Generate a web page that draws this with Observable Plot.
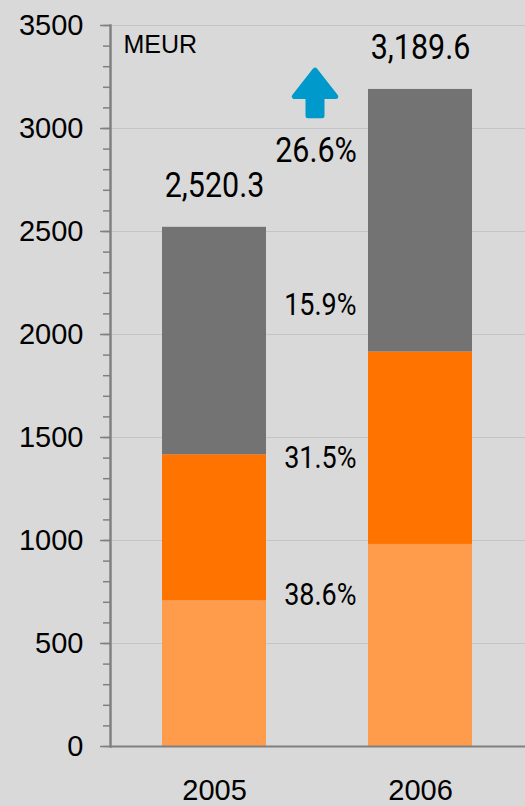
<!DOCTYPE html>
<html>
<head>
<meta charset="utf-8">
<script src="https://cdn.jsdelivr.net/npm/d3@7"></script>
<script src="https://cdn.jsdelivr.net/npm/@observablehq/plot@0.6"></script>
<style>
  html, body { margin: 0; padding: 0; background: #d9d9d9; }
  #chart svg { display: block; }
</style>
</head>
<body>
<div id="chart"></div>
<script>
// ---- data ----
const years = ["2005", "2006"];
const segments = ["Base", "Core", "Other"];           // bottom → top
const baseValues  = [707.0, 981.0];
const coreValues  = [709.0, 934.0];
const otherValues = [1104.3, 1274.6];
const totals = [2520.3, 3189.6];
const totalLabels = ["2,520.3", "3,189.6"];
const growthLabels = ["38.6%", "31.5%", "15.9%"];      // Base, Core, Other growth
const totalGrowthLabel = "26.6%";
const yTicks = [0, 500, 1000, 1500, 2000, 2500, 3000, 3500];
const unitLabel = "MEUR";

const colors = {Base: "#ff9c4c", Core: "#ff7300", Other: "#737373"};

// ---- table built from arrays ----
const rows = [];
years.forEach((yr, i) => {
  [baseValues, coreValues, otherValues].forEach((arr, j) => {
    rows.push({year: yr, segment: segments[j], value: arr[i]});
  });
});
const totalRows = years.map((yr, i) => ({year: yr, total: totals[i], label: totalLabels[i]}));
// annotation placement (layout, not data)
const growthY = [686, 1351, 2093];
const growthRows = growthLabels.map((t, i) => ({label: t, y: growthY[i]}));

const axisColor = "#808080";

// block-arrow shape for the vector mark
const blockArrow = {
  draw(context, l) {
    const d = 2.5;
    const shaftHW = 9.5 - d, headHW = 24 - d * 1.3;
    const shaftTop = -(21.6);
    context.moveTo(-shaftHW, -d);
    context.lineTo(shaftHW, -d);
    context.lineTo(shaftHW, shaftTop);
    context.lineTo(headHW, shaftTop);
    context.lineTo(0, -(l - d * 1.4));
    context.lineTo(-headHW, shaftTop);
    context.lineTo(-shaftHW, shaftTop);
    context.closePath();
  }
};

const chart = Plot.plot({
  width: 525,
  height: 806,
  marginTop: 25,
  marginBottom: 60,
  marginLeft: 110,
  marginRight: 0,
  style: {background: "#d9d9d9", fontFamily: "'Liberation Sans', Arial, sans-serif", color: "#000"},
  x: {domain: years, paddingInner: 0.493, paddingOuter: 0.249, label: null},
  y: {domain: [0, 3500], label: null},
  color: {domain: segments, range: segments.map(s => colors[s])},
  marks: [
    Plot.ruleY(yTicks, {stroke: "#c4c4c4", strokeWidth: 1.2}),
    Plot.barY(rows, {x: "year", y: "value", fill: "segment", order: segments}),
    // axes
    Plot.axisY(d3.range(0, 3501, 100), {tickSize: 7, text: null, stroke: axisColor, strokeWidth: 1.5}),
    Plot.axisY(yTicks, {tickSize: 10, tickPadding: 17, tickFormat: d => String(d), fontSize: 29, stroke: axisColor, strokeWidth: 1.5, fill: "#000"}),
    Plot.ruleY([0], {stroke: axisColor, strokeWidth: 2}),
    Plot.frame({anchor: "left", stroke: axisColor, strokeWidth: 2.5}),
    Plot.axisX({tickSize: 0, tickPadding: 33, fontSize: 29, fill: "#000"}),
    // unit label
    Plot.text([unitLabel], {frameAnchor: "top-left", dx: 13, dy: 10, fontSize: 25, lineAnchor: "top", textAnchor: "start", fill: "#000"}),
    // totals
    Plot.text(totalRows, {x: "year", y: "total", text: "label", dy: -30, lineAnchor: "bottom", fontSize: 35, fontFamily: "Roboto, sans-serif", fill: "#000"}),
    // growth labels
    Plot.text(growthRows, {x: () => "2006", y: "y", text: "label", dx: -64, textAnchor: "end", lineAnchor: "bottom", fontSize: 31, fontFamily: "Roboto, sans-serif", fill: "#000"}),
    Plot.text([totalGrowthLabel], {x: () => "2006", y: () => 2836, dx: -104.5, lineAnchor: "bottom", fontSize: 35, fontFamily: "Roboto, sans-serif", fill: "#000"}),
    // growth arrow
    Plot.vector([0], {x: () => "2006", y: () => 3050, dx: -105.5, length: 51.6, rotate: 0, anchor: "start",
      shape: blockArrow, fill: "#0099cc", stroke: "#0099cc", strokeWidth: 5, strokeLinejoin: "round"})
  ]
});

// condensed look for the number labels
d3.select(chart).selectAll("g[aria-label='text'] text").each(function() {
  if (this.textContent === unitLabel) return;
  const t = this.getAttribute("transform") || "";
  this.setAttribute("transform", t + " scale(0.87,1)");
});

document.getElementById("chart").appendChild(chart);
</script>
</body>
</html>
